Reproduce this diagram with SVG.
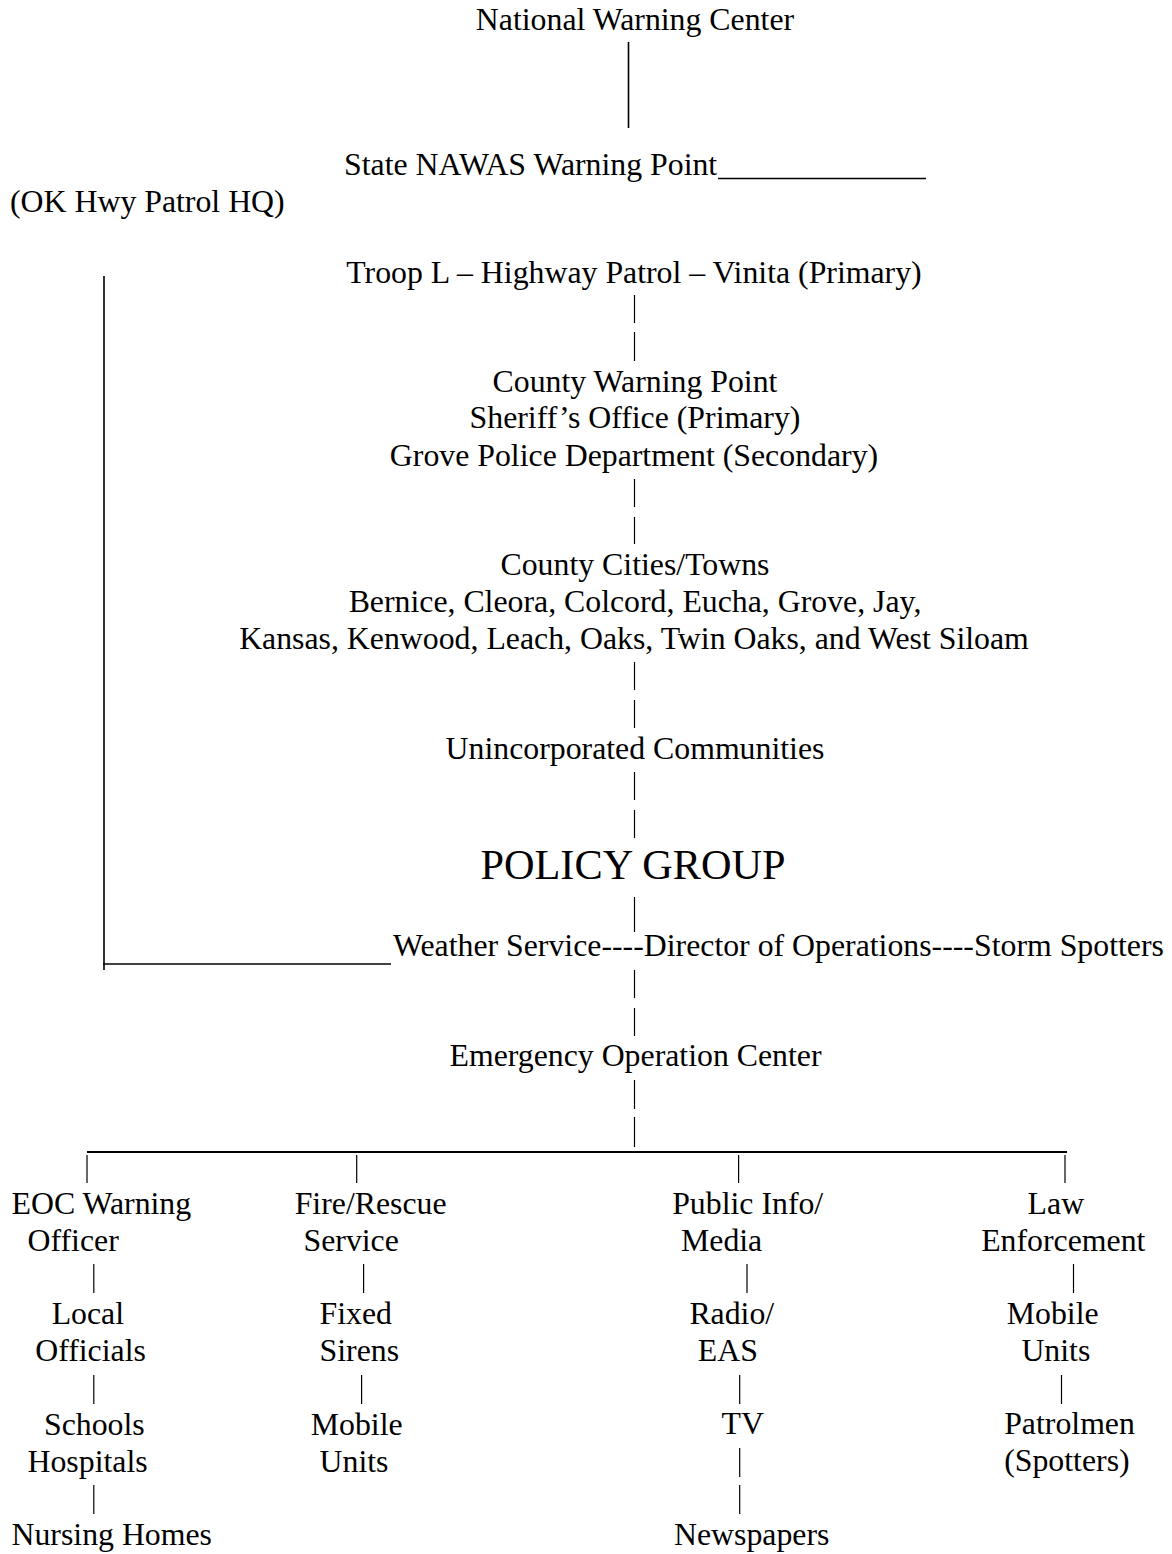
<svg xmlns="http://www.w3.org/2000/svg" width="1172" height="1554" viewBox="0 0 1172 1554">
<style>
  text { font-family: "Liberation Serif", "Times New Roman", serif; font-size: 31.8px; fill: #000; }
  .c { text-anchor: middle; }
  .big { font-size: 42.3px; }
  .bar { stroke: #000; stroke-width: 1.2; fill: none; }
  .rule { stroke: #000; stroke-width: 1.6; fill: none; }
  .thick { stroke: #000; stroke-width: 2.2; fill: none; }
</style>
<rect width="1172" height="1554" fill="#fff"/>

<g id="connectors">
  <line class="rule" x1="628.5" y1="42" x2="628.5" y2="128"/>
  <line class="rule" x1="718" y1="178.5" x2="926" y2="178.5"/>
  <line class="rule" x1="104" y1="276" x2="104" y2="970"/>
  <line class="rule" x1="103" y1="964" x2="391" y2="964"/>
  <line class="bar" x1="634.5" y1="295" x2="634.5" y2="323"/>
  <line class="bar" x1="634.5" y1="332" x2="634.5" y2="361"/>
  <line class="bar" x1="634.5" y1="479" x2="634.5" y2="507"/>
  <line class="bar" x1="634.5" y1="517" x2="634.5" y2="544"/>
  <line class="bar" x1="634.5" y1="662" x2="634.5" y2="690"/>
  <line class="bar" x1="634.5" y1="700" x2="634.5" y2="728"/>
  <line class="bar" x1="634.5" y1="772" x2="634.5" y2="800"/>
  <line class="bar" x1="634.5" y1="810" x2="634.5" y2="838"/>
  <line class="bar" x1="634.5" y1="897" x2="634.5" y2="932"/>
  <line class="bar" x1="634.5" y1="970" x2="634.5" y2="998"/>
  <line class="bar" x1="634.5" y1="1008" x2="634.5" y2="1036"/>
  <line class="bar" x1="634.5" y1="1080" x2="634.5" y2="1109"/>
  <line class="bar" x1="634.5" y1="1117" x2="634.5" y2="1147"/>
  <line class="thick" x1="87" y1="1152" x2="1067" y2="1152"/>
  <line class="bar" x1="87" y1="1155" x2="87" y2="1183"/>
  <line class="bar" x1="356.7" y1="1155" x2="356.7" y2="1183"/>
  <line class="bar" x1="738.6" y1="1155" x2="738.6" y2="1183"/>
  <line class="bar" x1="1065" y1="1155" x2="1065" y2="1183"/>
  <line class="bar" x1="93.8" y1="1264" x2="93.8" y2="1293"/>
  <line class="bar" x1="93.8" y1="1375" x2="93.8" y2="1404"/>
  <line class="bar" x1="93.8" y1="1485" x2="93.8" y2="1514"/>
  <line class="bar" x1="363.6" y1="1264" x2="363.6" y2="1293"/>
  <line class="bar" x1="361.6" y1="1375" x2="361.6" y2="1404"/>
  <line class="bar" x1="747" y1="1264" x2="747" y2="1293"/>
  <line class="bar" x1="739.7" y1="1375" x2="739.7" y2="1404"/>
  <line class="bar" x1="739.7" y1="1448" x2="739.7" y2="1477"/>
  <line class="bar" x1="739.7" y1="1485" x2="739.7" y2="1514"/>
  <line class="bar" x1="1073.5" y1="1264" x2="1073.5" y2="1293"/>
  <line class="bar" x1="1061.5" y1="1375" x2="1061.5" y2="1404"/>
</g>

<g id="national-warning-center"><text class="c" x="635" y="30">National Warning Center</text></g>
<g id="state-nawas"><text x="344" y="175">State NAWAS Warning Point</text></g>
<g id="ok-hwy-patrol"><text x="10" y="211.5">(OK Hwy Patrol HQ)</text></g>
<g id="troop-l"><text class="c" x="634" y="283">Troop L – Highway Patrol – Vinita (Primary)</text></g>
<g id="county-warning-point">
  <text class="c" x="635" y="391.5">County Warning Point</text>
  <text class="c" x="635" y="428.3">Sheriff’s Office (Primary)</text>
  <text class="c" x="634" y="465.5">Grove Police Department (Secondary)</text>
</g>
<g id="county-cities">
  <text class="c" x="635" y="575">County Cities/Towns</text>
  <text class="c" x="635" y="611.7">Bernice, Cleora, Colcord, Eucha, Grove, Jay,</text>
  <text class="c" x="634" y="648.5">Kansas, Kenwood, Leach, Oaks, Twin Oaks, and West Siloam</text>
</g>
<g id="unincorporated"><text class="c" x="635" y="758.5">Unincorporated Communities</text></g>
<g id="policy-group"><text class="c big" x="633" y="879">POLICY GROUP</text></g>
<g id="weather-director-spotters"><text x="393" y="956">Weather Service----Director of Operations----Storm Spotters</text></g>
<g id="eoc"><text class="c" x="635.5" y="1066">Emergency Operation Center</text></g>

<g id="eoc-warning-officer">
  <text x="11.5" y="1214">EOC Warning</text>
  <text x="27.5" y="1251">Officer</text>
</g>
<g id="local-officials">
  <text x="51.7" y="1324">Local</text>
  <text x="35.2" y="1361">Officials</text>
</g>
<g id="schools-hospitals">
  <text x="44" y="1435">Schools</text>
  <text x="27.5" y="1472">Hospitals</text>
</g>
<g id="nursing-homes"><text x="11.5" y="1545">Nursing Homes</text></g>

<g id="fire-rescue">
  <text x="294.7" y="1214">Fire/Rescue</text>
  <text x="303.5" y="1251">Service</text>
</g>
<g id="fixed-sirens">
  <text x="319.6" y="1324">Fixed</text>
  <text x="319.6" y="1361">Sirens</text>
</g>
<g id="fire-mobile-units">
  <text x="310.8" y="1435">Mobile</text>
  <text x="319.6" y="1472">Units</text>
</g>

<g id="public-info">
  <text x="672.2" y="1214">Public Info/</text>
  <text x="681" y="1251">Media</text>
</g>
<g id="radio-eas">
  <text x="689.4" y="1324">Radio/</text>
  <text x="697.8" y="1361">EAS</text>
</g>
<g id="tv"><text x="721.5" y="1434">TV</text></g>
<g id="newspapers"><text x="674" y="1545">Newspapers</text></g>

<g id="law-enforcement">
  <text x="1027.6" y="1214">Law</text>
  <text x="981.2" y="1251">Enforcement</text>
</g>
<g id="law-mobile-units">
  <text x="1006.8" y="1324">Mobile</text>
  <text x="1021.4" y="1361">Units</text>
</g>
<g id="patrolmen">
  <text x="1004.2" y="1434">Patrolmen</text>
  <text x="1004.2" y="1471">(Spotters)</text>
</g>
</svg>
